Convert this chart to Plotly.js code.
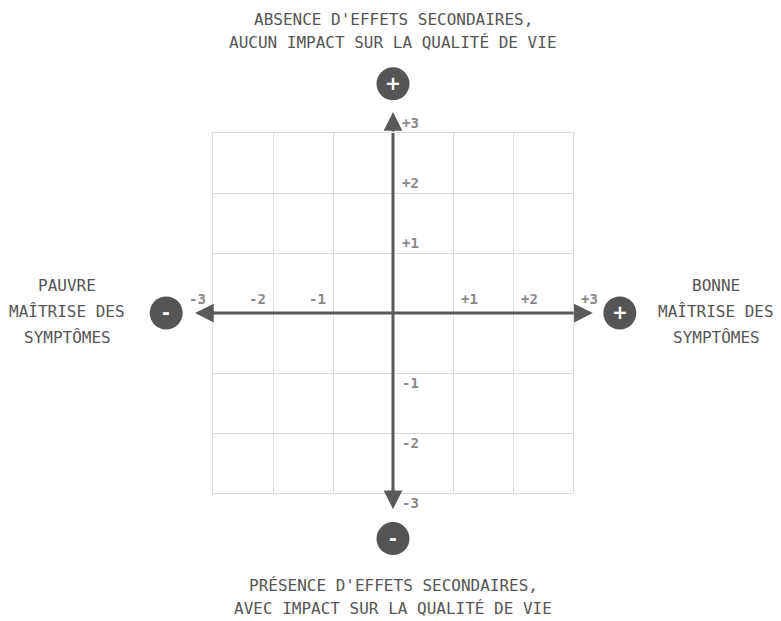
<!DOCTYPE html>
<html>
<head>
<meta charset="utf-8">
<script src="https://cdn.plot.ly/plotly-3.0.1.min.js"></script>
<style>html,body{margin:0;padding:0;background:#fff;}#chart{width:781px;height:621px;}</style>
</head>
<body>
<div id="chart"></div>
<script>
// Axis tick values and their labels
const xTickVals = [-3, -2, -1, 1, 2, 3];
const xTickText = ['-3', '-2', '-1', '+1', '+2', '+3'];
const yTickVals = [3, 2, 1, -1, -2, -3];
const yTickText = ['+3', '+2', '+1', '-1', '-2', '-3'];

// Pole labels (one entry per line)
const topLines = ["ABSENCE D'EFFETS SECONDAIRES,", "AUCUN IMPACT SUR LA QUALITÉ DE VIE"];
const bottomLines = ["PRÉSENCE D'EFFETS SECONDAIRES,", "AVEC IMPACT SUR LA QUALITÉ DE VIE"];
const leftLines = ["PAUVRE", "MAÎTRISE DES", "SYMPTÔMES"];
const rightLines = ["BONNE", "MAÎTRISE DES", "SYMPTÔMES"];

// Pole sign badges (in axis units)
const badgeX = [0, 0, -3.78, 3.78];
const badgeY = [3.82, -3.76, 0, 0];
const badgeText = ['+', '-', '-', '+'];

// Arrow tips of the two axes (in axis units)
const arrowTipX = [-3.3, 3.33, 0, 0];
const arrowTipY = [0, 0, 3.35, -3.27];

const FONT = '"DejaVu Sans Mono", "Liberation Mono", monospace';
const AXIS = '#5a5a5a';
const TICK = '#888888';
const TEXT = '#555555';
const toPx = v => (v + 3) / 6; // axis units -> paper fraction

const annotations = [];
const shapes = [];

// axis lines through the centre
shapes.push({type: 'line', xref: 'x', yref: 'y', x0: arrowTipX[0] + 0.2, x1: arrowTipX[1] - 0.2, y0: 0, y1: 0,
  line: {color: AXIS, width: 3}, layer: 'above'});
shapes.push({type: 'line', xref: 'x', yref: 'y', x0: 0, x1: 0, y0: arrowTipY[3] + 0.2, y1: arrowTipY[2] - 0.2,
  line: {color: AXIS, width: 3}, layer: 'above'});

// arrow heads only (short arrows sitting on the ends of the lines)
for (let i = 0; i < arrowTipX.length; i++) {
  const sx = Math.sign(arrowTipX[i]), sy = Math.sign(arrowTipY[i]);
  annotations.push({
    x: arrowTipX[i], y: arrowTipY[i], xref: 'x', yref: 'y',
    ax: arrowTipX[i] - sx * 0.35, ay: arrowTipY[i] - sy * 0.35, axref: 'x', ayref: 'y',
    text: '', showarrow: true, arrowhead: 2, arrowsize: 1.25,
    arrowwidth: 3, arrowcolor: AXIS, standoff: 0, startstandoff: 0
  });
}
xTickVals.forEach((v, i) => {
  annotations.push({
    x: v, y: 0, xref: 'x', yref: 'y', text: '<b>' + xTickText[i] + '</b>',
    showarrow: false, xanchor: v < 0 ? 'right' : 'left', yanchor: 'middle',
    xshift: v < 0 ? -5 : 6, yshift: 14,
    font: {family: FONT, size: 14, color: TICK}
  });
});
yTickVals.forEach((v, i) => {
  annotations.push({
    x: 0, y: v, xref: 'x', yref: 'y', text: '<b>' + yTickText[i] + '</b>',
    showarrow: false, xanchor: 'left', yanchor: 'middle',
    xshift: 7, yshift: v > 0 ? 10 : -10,
    font: {family: FONT, size: 14, color: TICK}
  });
});

// badges
badgeX.forEach((bx, i) => {
  const px = toPx(bx), py = toPx(badgeY[i]);
  shapes.push({type: 'circle', xref: 'paper', yref: 'paper', xsizemode: 'pixel', ysizemode: 'pixel',
    xanchor: px, yanchor: py, x0: -16.5, x1: 16.5, y0: -16.5, y1: 16.5,
    fillcolor: '#555555', line: {width: 0}, layer: 'above'});
  annotations.push({x: px, y: py, xref: 'paper', yref: 'paper', text: '<b>' + badgeText[i] + '</b>',
    showarrow: false, xanchor: 'center', yanchor: 'middle', yshift: 1,
    font: {family: 'DejaVu Sans', size: 19, color: '#ffffff'}});
});

const labelFont = {family: FONT, size: 16, color: TEXT};
const topY = [19, 42];      // pixel centres from the top of the page
const bottomY = [585, 608];
const sideY = [285, 311, 337];
const plotTop = 133, plotBottom = 493;
topLines.forEach((t, i) => annotations.push({x: 0, y: 1, xref: 'x', yref: 'paper', yshift: plotTop - topY[i],
  text: t, showarrow: false, xanchor: 'center', yanchor: 'middle', font: labelFont}));
bottomLines.forEach((t, i) => annotations.push({x: 0, y: 0, xref: 'x', yref: 'paper', yshift: plotBottom - bottomY[i],
  text: t, showarrow: false, xanchor: 'center', yanchor: 'middle', font: labelFont}));
leftLines.forEach((t, i) => annotations.push({x: 0, y: 0, xref: 'paper', yref: 'y', xshift: -146, yshift: 313 - sideY[i],
  text: t, showarrow: false, xanchor: 'center', yanchor: 'middle', font: labelFont}));
rightLines.forEach((t, i) => annotations.push({x: 1, y: 0, xref: 'paper', yref: 'y', xshift: 143, yshift: 313 - sideY[i],
  text: t, showarrow: false, xanchor: 'center', yanchor: 'middle', font: labelFont}));

const axisCommon = {
  range: [-3, 3], dtick: 1, tick0: 0, showgrid: true, gridcolor: '#dcdcdc', gridwidth: 1,
  zeroline: false, showticklabels: false, ticks: '', showline: true, mirror: true,
  linecolor: '#dcdcdc', linewidth: 1, fixedrange: true
};

const layout = {
  width: 781, height: 621,
  margin: {l: 213, r: 208, t: 133, b: 128, pad: 0},
  paper_bgcolor: '#ffffff', plot_bgcolor: '#ffffff',
  xaxis: Object.assign({}, axisCommon),
  yaxis: Object.assign({}, axisCommon),
  showlegend: false,
  shapes: shapes,
  annotations: annotations
};

Plotly.newPlot('chart', [], layout, {displayModeBar: false, staticPlot: true});
</script>
</body>
</html>
